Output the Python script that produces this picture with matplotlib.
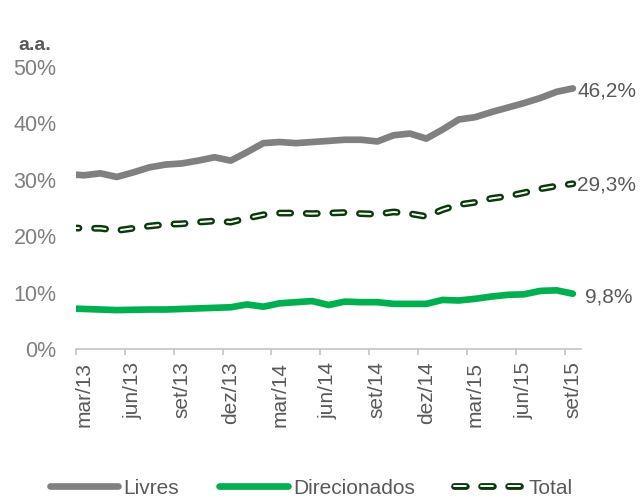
import matplotlib
matplotlib.use("Agg")
import matplotlib.pyplot as plt
from matplotlib.lines import Line2D
import numpy as np

plt.rcParams['font.family'] = ['Liberation Sans', 'DejaVu Sans']
plt.rcParams['lines.scale_dashes'] = False

months = ["fev/13", "mar/13", "abr/13", "mai/13", "jun/13", "jul/13", "ago/13", "set/13",
          "out/13", "nov/13", "dez/13", "jan/14", "fev/14", "mar/14", "abr/14", "mai/14",
          "jun/14", "jul/14", "ago/14", "set/14", "out/14", "nov/14", "dez/14", "jan/15",
          "fev/15", "mar/15", "abr/15", "mai/15", "jun/15", "jul/15", "ago/15", "set/15"]

livres = [31.0, 30.8, 31.15, 30.5, 31.3, 32.2, 32.7, 32.9, 33.4, 34.0, 33.4, 34.9,
          36.5, 36.7, 36.5, 36.7, 36.9, 37.1, 37.1, 36.8, 37.9, 38.2, 37.3, 38.9,
          40.7, 41.1, 42.0, 42.8, 43.6, 44.5, 45.6, 46.2]
direcionados = [7.2, 7.1, 7.0, 6.9, 6.95, 7.0, 7.0, 7.1, 7.2, 7.3, 7.4, 7.9,
                7.5, 8.1, 8.3, 8.5, 7.8, 8.4, 8.3, 8.3, 8.0, 8.0, 8.0, 8.7,
                8.6, 8.9, 9.3, 9.6, 9.7, 10.3, 10.4, 9.8]
total = [21.5, 21.4, 21.4, 21.0, 21.4, 21.8, 22.1, 22.2, 22.5, 22.7, 22.5, 23.2,
         23.8, 24.1, 24.1, 24.0, 24.1, 24.2, 24.0, 23.9, 24.3, 24.0, 23.5, 24.7,
         25.6, 26.0, 26.7, 27.1, 27.7, 28.4, 28.9, 29.3]

series_names = ["Livres", "Direcionados", "Total"]
end_labels = ["46,2%", "9,8%", "29,3%"]

GRAY = "#808080"
GREEN = "#00B050"
DKGREEN = "#0A3A0A"
TXT = "#595959"
TICKTXT = "#7F7F7F"
AXIS = "#BFBFBF"

W, H = 640, 498
fig = plt.figure(figsize=(W / 100, H / 100), dpi=100)
ax_l, ax_r, ax_t, ax_b = 76, 581, 67, 349
ax = fig.add_axes([ax_l / W, 1 - ax_b / H, (ax_r - ax_l) / W, (ax_b - ax_t) / H])

x = np.arange(len(months))

ax.plot(x, livres, color=GRAY, lw=4.8, solid_capstyle='round', solid_joinstyle='round')
ax.plot(x, direcionados, color=GREEN, lw=4.8, solid_capstyle='round', solid_joinstyle='round')
dash = (0, (8.0, 11.2))
ax.plot(x, total, color=DKGREEN, lw=4.9, linestyle=dash,
        dash_capstyle='round', dash_joinstyle='round')
ax.plot(x, total, color='white', lw=1.4, linestyle=dash,
        dash_capstyle='round', dash_joinstyle='round')

ax.set_xlim(0.5, len(months) - 0.5)
ax.set_ylim(0, 50)

# y axis
ax.set_yticks(np.arange(0, 51, 10))
ax.set_yticklabels([f"{v}%" for v in range(0, 51, 10)])
ax.tick_params(axis='y', length=0, pad=14, labelsize=15.5, labelcolor=TICKTXT)

# x axis: tick marks between categories, labels at categories
label_idx = list(range(1, len(months), 3))
ax.set_xticks([i - 0.5 for i in label_idx])
ax.set_xticklabels([])
ax.set_xticks(label_idx, minor=True)
ax.set_xticklabels([months[i] for i in label_idx], minor=True, rotation=90,
                   fontsize=15, color=TXT)
ax.tick_params(axis='x', which='major', length=4.4, width=1.1, color=AXIS, direction='out')
ax.tick_params(axis='x', which='minor', length=0, pad=9)

for s in ['top', 'right', 'left']:
    ax.spines[s].set_visible(False)
ax.spines['bottom'].set_color(AXIS)
ax.spines['bottom'].set_linewidth(1.1)

# end labels
last = len(months) - 1
ax.annotate(end_labels[0], (last, livres[-1]), xytext=(3, -2), textcoords='offset points',
            ha='left', va='center', fontsize=15, color=TXT, annotation_clip=False)
ax.annotate(end_labels[2], (last, total[-1]), xytext=(3, -1), textcoords='offset points',
            ha='left', va='center', fontsize=15, color=TXT, annotation_clip=False)
ax.annotate(end_labels[1], (last, direcionados[-1]), xytext=(9, -2), textcoords='offset points',
            ha='left', va='center', fontsize=15, color=TXT, annotation_clip=False)

fig.text(18 / W, 1 - 46 / H, "a.a.", fontsize=14, fontweight='bold', color=TXT,
         ha='left', va='center')

h_l = Line2D([], [], color=GRAY, lw=4.8, solid_capstyle='round')
h_d = Line2D([], [], color=GREEN, lw=4.8, solid_capstyle='round')
ldash = (0, (8.5, 11.0))
h_to = Line2D([], [], color=DKGREEN, lw=4.9, linestyle=ldash, dash_capstyle='round')
h_ti = Line2D([], [], color='white', lw=1.4, linestyle=ldash, dash_capstyle='round')
leg = fig.legend([h_l, h_d, (h_to, h_ti)], series_names, loc='center',
                 bbox_to_anchor=(311 / W, 1 - 488 / H), ncol=3, frameon=False,
                 fontsize=15, handlelength=3.3, handletextpad=0.25, columnspacing=1.9,
                 borderaxespad=0, borderpad=0)
for t in leg.get_texts():
    t.set_color(TXT)

fig.savefig("out.png", dpi=100)
